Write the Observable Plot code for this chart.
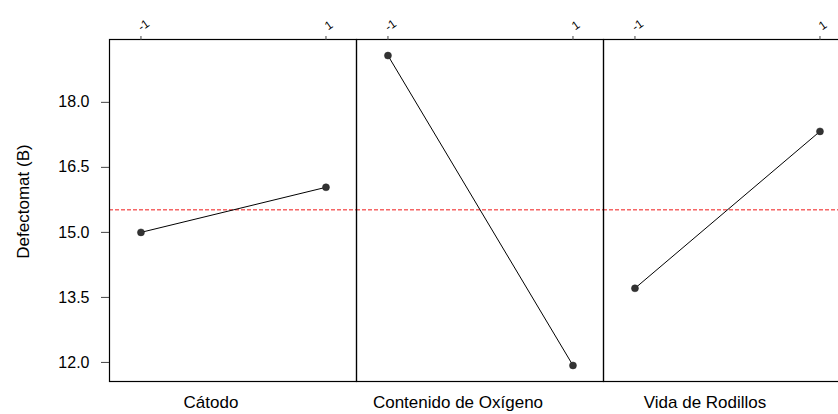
<!DOCTYPE html>
<html>
<head>
<meta charset="utf-8">
<script src="https://cdn.jsdelivr.net/npm/d3@7"></script>
<script src="https://cdn.jsdelivr.net/npm/@observablehq/plot@0.6"></script>
<style>
  html, body { margin: 0; padding: 0; background: #fff; overflow: hidden; }
  #chart { width: 838px; height: 414px; overflow: hidden; }
  #chart svg { max-width: none !important; display: block; }
</style>
</head>
<body>
<div id="chart"></div>
<script>
// Main effects plot: mean of Defectomat (B) at the low (-1) and high (1) level of each factor
const factors = ["Cátodo", "Contenido de Oxígeno", "Vida de Rodillos"];
const levels = [-1, 1];
const lowMeans = [15.0, 19.08, 13.71];
const highMeans = [16.04, 11.93, 17.33];
const grandMean = 15.52;
const yTicks = [12.0, 13.5, 15.0, 16.5, 18.0];
const levelLabels = ["-1", "1"];
const yLabel = "Defectomat (B)";

const rows = factors.flatMap((f, i) => [
  {factor: f, level: levels[0], mean: lowMeans[i]},
  {factor: f, level: levels[1], mean: highMeans[i]}
]);

const chart = Plot.plot({
  width: 851,
  height: 414,
  marginLeft: 108,
  marginRight: 0,
  marginTop: 39,
  marginBottom: 33,
  style: {
    fontFamily: "'Liberation Sans', Arial, sans-serif",
    fontSize: "14px",
    background: "#fff",
    overflow: "visible"
  },
  fx: {domain: factors, padding: 0, axis: null},
  x: {domain: [-1.34, 1.33], axis: null},
  y: {domain: [11.56, 19.45], axis: null},
  marks: [
    Plot.ruleY([grandMean], {stroke: "#f01818", strokeWidth: 1, strokeDasharray: "4,2"}),
    Plot.line(rows, {fx: "factor", x: "level", y: "mean", stroke: "#000", strokeWidth: 1}),
    Plot.dot(rows, {fx: "factor", x: "level", y: "mean", r: 3.5, fill: "#333", stroke: "#222", strokeWidth: 0.5}),
    Plot.frame({stroke: "#000", strokeWidth: 1.2}),
    Plot.axisY({
      ticks: yTicks, tickSize: 8, tickPadding: 12, fontSize: 16,
      tickFormat: d => d.toFixed(1), label: null, stroke: "#444"
    }),
    // level ticks along the top of every panel
    Plot.axisX({
      anchor: "top", ticks: levels, tickSize: 4, tickFormat: () => "", label: null, stroke: "#444"
    }),
    Plot.text(levels, {
      x: d => d, text: (d, i) => levelLabels[i], frameAnchor: "top",
      dy: -18, rotate: -35, fontSize: 12, textAnchor: "middle"
    }),
    Plot.axisFx({
      anchor: "bottom", tickSize: 0, tickPadding: 14, fontSize: 17, dx: -22, label: null
    }),
    Plot.text([{factor: factors[0], label: yLabel}], {
      fx: "factor", text: "label", frameAnchor: "left", textAnchor: "middle",
      dx: -86, dy: -9, rotate: -90, fontSize: 17
    })
  ]
});

document.getElementById("chart").appendChild(chart);
</script>
</body>
</html>
